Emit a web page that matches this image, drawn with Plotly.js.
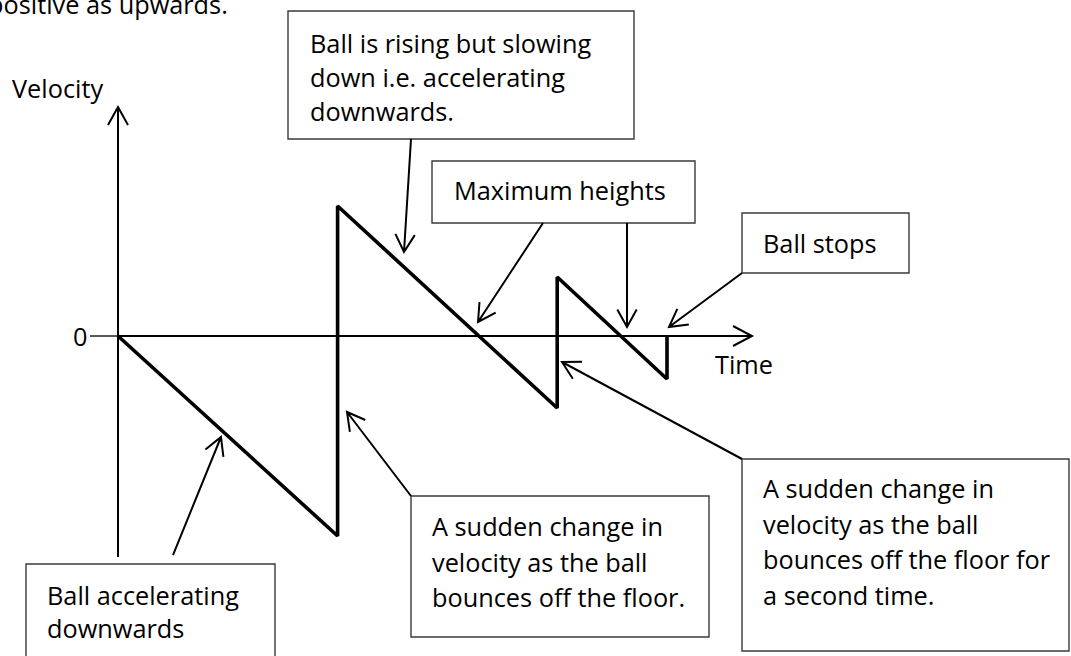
<!DOCTYPE html>
<html>
<head>
<meta charset="utf-8">
<script src="https://cdn.plot.ly/plotly-3.0.1.min.js"></script>
<style>html,body{margin:0;padding:0;background:#fff}#chart{width:1071px;height:656px}</style>
</head>
<body>
<div id="chart"></div>
<script>
// ---- data ----
const time = [0, 2, 2, 4, 4, 5, 5];
const velocity = [0, -20, 13, -7.2, 5.9, -4.3, 0];
const xAxisLabel = 'Time';
const yAxisLabel = 'Velocity';
const zeroLabel = '0';
const headerText = 'positive as upwards.';
const noteTexts = [
  ['Ball accelerating', 'downwards'],
  ['A sudden change in', 'velocity as the ball', 'bounces off the floor.'],
  ['A sudden change in', 'velocity as the ball', 'bounces off the floor for', 'a second time.'],
  ['Ball is rising but slowing', 'down i.e. accelerating', 'downwards.'],
  ['Maximum heights'],
  ['Ball stops']
];

// ---- layout geometry (pixels) ----
const W = 1071, H = 656;
const FONT = '"Open Sans", Lato, sans-serif';
const FS = 25.3;
const pxPerT = 109.8, x0px = 118;
const pxPerV = 10, y0px = 336;

const boxes = [ // [left, top, right, bottom, textLeft, firstLineCenterY, lineGap]
  [26, 564, 275, 660, 45, 595, 33],
  [411, 496, 709, 637, 430, 526, 35.5],
  [742, 459, 1069, 651, 761, 488, 35.5],
  [288, 11, 634, 139, 308, 43, 34],
  [432, 161, 695, 223, 452, 190, 34],
  [742, 213, 909, 273, 761, 243, 34]
];
const arrows = [ // [fromX, fromY, tipX, tipY]
  [173, 555, 221, 437],
  [411, 496, 347, 412],
  [742, 459, 562, 362],
  [411, 139, 404, 252],
  [543, 223, 478, 322],
  [627, 223, 627, 327],
  [742, 273, 669, 327]
];

function X(px){ return px / W; }
function Y(py){ return 1 - py / H; }
function P(x, y){ return X(x).toFixed(5) + ',' + Y(y).toFixed(5); }

function arrowPath(x1, y1, x2, y2, L, th){
  L = L || 20; th = (th || 29) * Math.PI / 180;
  const a = Math.atan2(y2 - y1, x2 - x1);
  const b1 = a + Math.PI - th, b2 = a + Math.PI + th;
  const p1 = [x2 + L * Math.cos(b1), y2 + L * Math.sin(b1)];
  const p2 = [x2 + L * Math.cos(b2), y2 + L * Math.sin(b2)];
  return 'M' + P(x1, y1) + 'L' + P(x2, y2) + 'M' + P(p1[0], p1[1]) + 'L' + P(x2, y2) + 'L' + P(p2[0], p2[1]);
}

const shapes = [];
const annotations = [];

// axes with arrowheads
shapes.push({type:'path', xref:'paper', yref:'paper', path:'M' + P(90, 336) + 'L' + P(118, 336), line:{color:'#000', width:1.3}});
shapes.push({type:'path', xref:'paper', yref:'paper', path:'M' + P(118,336) + 'L' + P(752,336) + 'M' + P(733,326) + 'L' + P(752,336) + 'L' + P(733,346), line:{color:'#000', width:2}});
shapes.push({type:'path', xref:'paper', yref:'paper', path:'M' + P(118,557) + 'L' + P(118,107) + 'M' + P(108,125) + 'L' + P(118,107) + 'L' + P(128,125), line:{color:'#000', width:2}});

// boxes and text
boxes.forEach((b, i) => {
  shapes.push({type:'rect', xref:'paper', yref:'paper', x0:X(b[0]), x1:X(b[2]), y0:Y(b[3]), y1:Y(b[1]),
    line:{color:'#3a3a3a', width:1.4}, fillcolor:'rgba(255,255,255,0)'});
  noteTexts[i].forEach((t, j) => {
    annotations.push({xref:'paper', yref:'paper', x:X(b[4]), y:Y(b[5] + j * b[6]), xanchor:'left', yanchor:'middle',
      text:t, showarrow:false, font:{family:FONT, size:FS, color:'#000'}});
  });
});
arrows.forEach(a => {
  shapes.push({type:'path', xref:'paper', yref:'paper', path:arrowPath(a[0], a[1], a[2], a[3]), line:{color:'#000', width:2}});
});

// labels
annotations.push({xref:'paper', yref:'paper', x:X(10), y:Y(88), xanchor:'left', yanchor:'middle', text:yAxisLabel, showarrow:false, font:{family:FONT, size:FS, color:'#000'}});
annotations.push({xref:'paper', yref:'paper', x:X(89), y:Y(336), xanchor:'right', yanchor:'middle', text:zeroLabel, showarrow:false, font:{family:FONT, size:FS, color:'#000'}});
annotations.push({xref:'paper', yref:'paper', x:X(713), y:Y(364), xanchor:'left', yanchor:'middle', text:xAxisLabel, showarrow:false, font:{family:FONT, size:FS, color:'#000'}});
annotations.push({xref:'paper', yref:'paper', x:X(-14), y:Y(4), xanchor:'left', yanchor:'middle', text:headerText, showarrow:false, font:{family:FONT, size:FS, color:'#000'}});

const trace = {
  x: time, y: velocity, type:'scatter', mode:'lines',
  line:{color:'#000', width:3.6}, hoverinfo:'skip', showlegend:false
};

const layout = {
  width: W, height: H,
  margin:{l:0, r:0, t:0, b:0},
  paper_bgcolor:'#fff', plot_bgcolor:'#fff',
  xaxis:{range:[-x0px / pxPerT, (W - x0px) / pxPerT], visible:false, fixedrange:true},
  yaxis:{range:[-(H - y0px) / pxPerV, y0px / pxPerV], visible:false, fixedrange:true},
  shapes: shapes,
  annotations: annotations,
  showlegend:false
};

Plotly.newPlot('chart', [trace], layout, {displayModeBar:false, staticPlot:true});
</script>
</body>
</html>
